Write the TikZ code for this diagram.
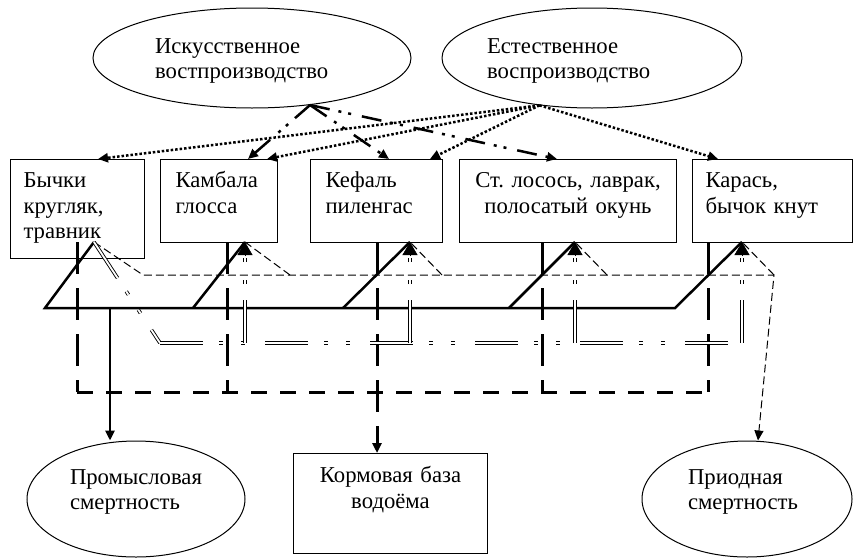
\documentclass[tikz,border=0pt]{standalone}
\usepackage{fontspec}
\setmainfont{Liberation Serif}
\usetikzlibrary{arrows.meta,shapes.geometric}
\tikzset{
  txt/.style={font=\fontsize{22.7}{25.5}\selectfont},
  fish/.style={txt,draw,line width=1pt,anchor=north west,align=left,inner ysep=0pt,text height=28pt,text depth=55pt},
  oval/.style={txt,draw,line width=1pt,ellipse,align=left,inner sep=0pt,text height=16pt,text depth=26pt},
  tip/.style={-{Triangle[length=10pt,width=9pt]}},
  bigtip/.style={line width=0.5pt,-{Triangle[length=13pt,width=15pt]}},
  promline/.style={line width=2.5pt},
  kormline/.style={line width=3pt,dash pattern=on 32pt off 14pt},
  prirline/.style={line width=1pt,dash pattern=on 8pt off 4pt},
  natline/.style={line width=2.5pt,dash pattern=on 2.5pt off 2pt},
  artline/.style={line width=2.5pt,dash pattern=on 20pt off 9pt on 3pt off 7pt on 3pt off 11pt},
  dblline/.style={double,line width=0.9pt,double distance=1.8pt,dash pattern=on 43pt off 16pt on 4pt off 18pt on 4pt off 20pt},
}
\begin{document}
\begin{tikzpicture}[x=1pt,y=-1pt]
\useasboundingbox (0,0) rectangle (853,557);
% ellipses
\node[oval,text width=194pt,minimum width=318pt,minimum height=100pt] (iskus) at (252,58) {Искусственное\\востпроизводство};
\node[oval,text width=210pt,minimum width=300pt,minimum height=100pt] (estes) at (592,58) {Естественное\\воспроизводство};
\node[oval,text width=132pt,minimum width=218pt,minimum height=116pt,text depth=46pt] (promsm) at (136,499) {Промысловая\\смертность};
\node[oval,text width=118pt,minimum width=210pt,minimum height=116pt,text depth=46pt] (prirsm) at (747,499) {Приодная\\смертность};
% boxes
\node[fish,text width=108pt,inner xsep=13pt,text depth=71pt] (bych) at (10,159) {Бычки\\кругляк,\\травник};
\node[fish,text width=87pt,inner xsep=15pt] (kamb) at (160,159) {Камбала\\глосса};
\node[fish,text width=102pt,inner xsep=15pt] (kef) at (310,159) {Кефаль\\пиленгас};
\node[fish,text width=215pt,inner xsep=1pt,align=center] (los) at (459,159) {Ст.\ лосось, лаврак,\\полосатый окунь};
\node[fish,text width=134pt,inner xsep=13pt] (kar) at (692,159) {Карась,\\бычок кнут};
\node[fish,text width=190pt,inner xsep=2pt,align=center,text height=29pt,text depth=71pt] (korm) at (293,453) {Кормовая база\\водоёма};
% points of the scheme
\coordinate (a1) at (94,242);
\coordinate (a2) at (245,242);
\coordinate (a3) at (410,242);
\coordinate (a4) at (575,242);
\coordinate (a5) at (742,242);
\coordinate (b1) at (45,308);
\coordinate (b2) at (193,308);
\coordinate (b3) at (343,308);
\coordinate (b4) at (509,308);
\coordinate (b5) at (675,308);
\coordinate (p0) at (110,308);
\coordinate (t0) at (143,275);
\coordinate (t2) at (290,275);
\coordinate (t3) at (442,275);
\coordinate (t4) at (607,275);
\coordinate (t5) at (774,275);
\coordinate (d0) at (160,343);
\coordinate (k1) at (77,392);
\coordinate (k2) at (227,392);
\coordinate (k3) at (377,392);
\coordinate (k4) at (542,392);
\coordinate (k5) at (708,392);
% reproduction
\draw[artline,tip] (iskus.321) -- ([xshift=88pt]kamb.north west);
\draw[artline,tip] (iskus.321) -- ([xshift=79pt]kef.north west);
\draw[artline,tip] (iskus.321) -- ([xshift=98pt]los.north west);
\foreach \n/\s in {bych/88pt,kamb/107pt,kef/120pt,kar/26pt}
  \draw[natline,tip] (estes.222) -- ([xshift=\s]\n.north west);
% fishing
\draw[promline] (a1) -- (b1) -- (b5) -- (a5);
\foreach \i in {2,3,4} \draw[promline] (b\i) -- (a\i);
\draw[promline,tip] (p0) -- (p0 |- promsm.north);
% food
\foreach \i in {1,2,4,5} \draw[kormline] (k\i |- a\i) -- (k\i);
\draw[kormline,tip] (k3 |- a3) -- (k3 |- korm.north);
\draw[kormline,dash pattern=on 16pt off 13pt] (k1) -- (k5);
% natural mortality
\draw[prirline,tip] (a1) -- (t0) -- (t5) -- ([xshift=11pt]prirsm.north);
\foreach \i in {2,...,5} \draw[prirline] (t\i) -- (a\i);
% double line
\draw[dblline] (a1) -- (d0);
\draw[dblline] (d0) -- (d0 -| a5);
\foreach \i in {2,...,5} {
  \draw[dblline] (d0 -| a\i) -- ([yshift=-16pt]a\i);
  \draw[bigtip] ([yshift=-14pt]a\i) -- (a\i);
}
\end{tikzpicture}
\end{document}
